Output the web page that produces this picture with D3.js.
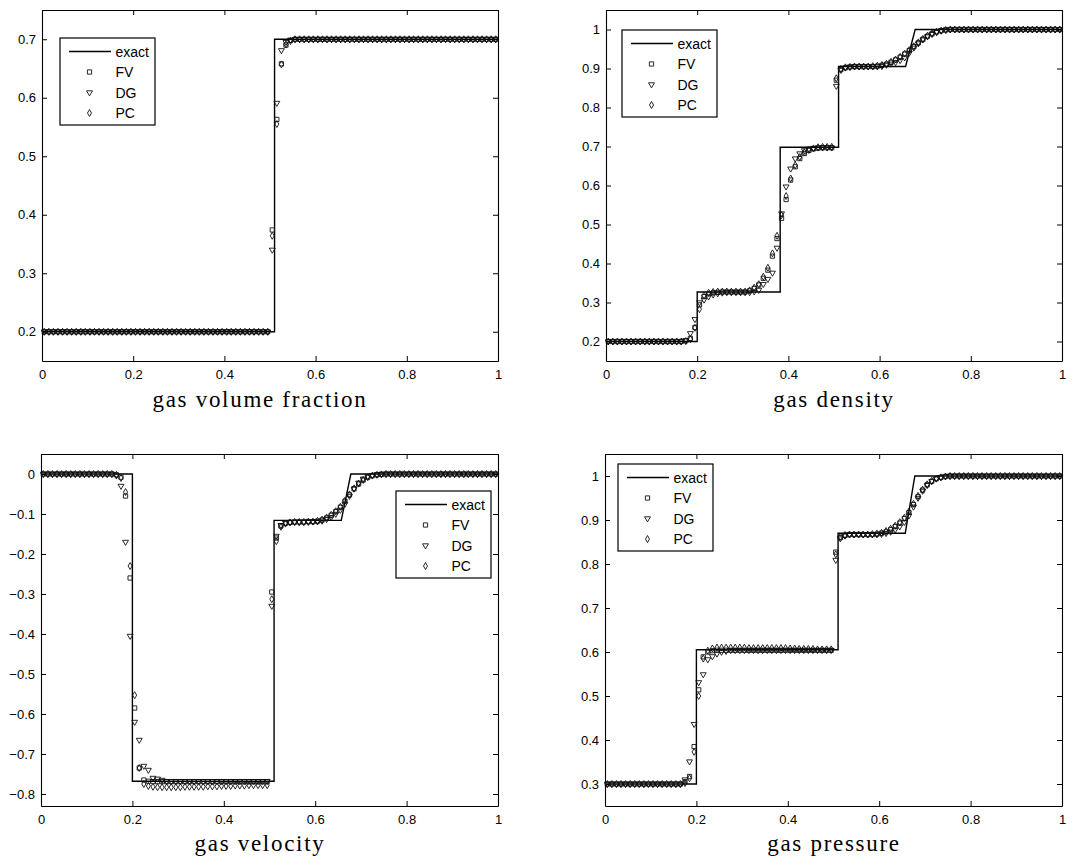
<!DOCTYPE html>
<html>
<head>
<meta charset="utf-8">
<script src="https://cdn.jsdelivr.net/npm/d3@7"></script>
<style>
  body { margin: 0; background: #fff; }
  svg { display: block; }
  .tick text { font-family: "Liberation Sans", Arial, sans-serif; font-size: 13px; fill: #000; }
  .title { font-family: "Liberation Serif", "Times New Roman", serif; font-size: 23px; letter-spacing: 1.7px; fill: #000; }
  .legend text { font-family: "Liberation Sans", Arial, sans-serif; font-size: 14px; fill: #000; }
</style>
</head>
<body>
<svg id="chart" width="1090" height="865"></svg>
<script>
// cell centres (100 cells on [0,1])
const cellX = [
  0.005,0.015,0.025,0.035,0.045,0.055,0.065,0.075,0.085,0.095,
  0.105,0.115,0.125,0.135,0.145,0.155,0.165,0.175,0.185,0.195,
  0.205,0.215,0.225,0.235,0.245,0.255,0.265,0.275,0.285,0.295,
  0.305,0.315,0.325,0.335,0.345,0.355,0.365,0.375,0.385,0.395,
  0.405,0.415,0.425,0.435,0.445,0.455,0.465,0.475,0.485,0.495,
  0.505,0.515,0.525,0.535,0.545,0.555,0.565,0.575,0.585,0.595,
  0.605,0.615,0.625,0.635,0.645,0.655,0.665,0.675,0.685,0.695,
  0.705,0.715,0.725,0.735,0.745,0.755,0.765,0.775,0.785,0.795,
  0.805,0.815,0.825,0.835,0.845,0.855,0.865,0.875,0.885,0.895,
  0.905,0.915,0.925,0.935,0.945,0.955,0.965,0.975,0.985,0.995
];
const xTicks = [0, 0.2, 0.4, 0.6, 0.8, 1];

// gas volume fraction
const alphaExactX = [0, 0.51, 0.51, 1];
const alphaExactY = [0.2, 0.2, 0.7, 0.7];
const alphaTicks = [0.2, 0.3, 0.4, 0.5, 0.6, 0.7];
const alphaFV = [
  0.2,0.2,0.2,0.2,0.2,0.2,0.2,0.2,0.2,0.2,
  0.2,0.2,0.2,0.2,0.2,0.2,0.2,0.2,0.2,0.2,
  0.2,0.2,0.2,0.2,0.2,0.2,0.2,0.2,0.2,0.2,
  0.2,0.2,0.2,0.2,0.2,0.2,0.2,0.2,0.2,0.2,
  0.2,0.2,0.2,0.2,0.2,0.2,0.2,0.2,0.2,0.2,
  0.374,0.563,0.658,0.690,0.698,0.7,0.7,0.7,0.7,0.7,
  0.7,0.7,0.7,0.7,0.7,0.7,0.7,0.7,0.7,0.7,
  0.7,0.7,0.7,0.7,0.7,0.7,0.7,0.7,0.7,0.7,
  0.7,0.7,0.7,0.7,0.7,0.7,0.7,0.7,0.7,0.7,
  0.7,0.7,0.7,0.7,0.7,0.7,0.7,0.7,0.7,0.7
];
const alphaDG = [
  0.2,0.2,0.2,0.2,0.2,0.2,0.2,0.2,0.2,0.2,
  0.2,0.2,0.2,0.2,0.2,0.2,0.2,0.2,0.2,0.2,
  0.2,0.2,0.2,0.2,0.2,0.2,0.2,0.2,0.2,0.2,
  0.2,0.2,0.2,0.2,0.2,0.2,0.2,0.2,0.2,0.2,
  0.2,0.2,0.2,0.2,0.2,0.2,0.2,0.2,0.2,0.2,
  0.340,0.591,0.681,0.695,0.699,0.7,0.7,0.7,0.7,0.7,
  0.7,0.7,0.7,0.7,0.7,0.7,0.7,0.7,0.7,0.7,
  0.7,0.7,0.7,0.7,0.7,0.7,0.7,0.7,0.7,0.7,
  0.7,0.7,0.7,0.7,0.7,0.7,0.7,0.7,0.7,0.7,
  0.7,0.7,0.7,0.7,0.7,0.7,0.7,0.7,0.7,0.7
];
const alphaPC = [
  0.2,0.2,0.2,0.2,0.2,0.2,0.2,0.2,0.2,0.2,
  0.2,0.2,0.2,0.2,0.2,0.2,0.2,0.2,0.2,0.2,
  0.2,0.2,0.2,0.2,0.2,0.2,0.2,0.2,0.2,0.2,
  0.2,0.2,0.2,0.2,0.2,0.2,0.2,0.2,0.2,0.2,
  0.2,0.2,0.2,0.2,0.2,0.2,0.2,0.2,0.2,0.2,
  0.364,0.555,0.657,0.691,0.697,0.7,0.7,0.7,0.7,0.7,
  0.7,0.7,0.7,0.7,0.7,0.7,0.7,0.7,0.7,0.7,
  0.7,0.7,0.7,0.7,0.7,0.7,0.7,0.7,0.7,0.7,
  0.7,0.7,0.7,0.7,0.7,0.7,0.7,0.7,0.7,0.7,
  0.7,0.7,0.7,0.7,0.7,0.7,0.7,0.7,0.7,0.7
];

// gas density
const rhoExactX = [0, 0.2, 0.2, 0.382, 0.382, 0.51, 0.51, 0.657, 0.678, 1];
const rhoExactY = [0.2, 0.2, 0.327, 0.327, 0.698, 0.698, 0.905, 0.905, 1, 1];
const rhoTicks = [0.2, 0.3, 0.4, 0.5, 0.6, 0.7, 0.8, 0.9, 1];
const rhoFV = [
  0.2,0.2,0.2,0.2,0.2,0.2,0.2,0.2,0.2,0.2,
  0.2,0.2,0.2,0.2,0.2,0.2,0.2,0.202,0.208,0.236,
  0.294,0.315,0.322,0.325,0.326,0.327,0.327,0.327,0.327,0.327,
  0.327,0.330,0.336,0.345,0.362,0.383,0.419,0.464,0.516,0.564,
  0.614,0.648,0.669,0.682,0.690,0.694,0.696,0.697,0.697,0.697,
  0.870,0.897,0.902,0.904,0.905,0.905,0.905,0.905,0.905,0.906,
  0.908,0.911,0.916,0.922,0.929,0.937,0.946,0.956,0.966,0.975,
  0.983,0.989,0.994,0.997,0.999,1,1,1,1,1,
  1,1,1,1,1,1,1,1,1,1,
  1,1,1,1,1,1,1,1,1,1
];
const rhoDG = [
  0.2,0.2,0.2,0.2,0.2,0.2,0.2,0.2,0.2,0.2,
  0.2,0.2,0.2,0.2,0.2,0.2,0.2,0.203,0.221,0.257,
  0.300,0.307,0.315,0.320,0.323,0.325,0.326,0.326,0.326,0.326,
  0.326,0.326,0.328,0.332,0.347,0.360,0.376,0.440,0.528,0.597,
  0.643,0.669,0.682,0.690,0.694,0.696,0.697,0.697,0.697,0.697,
  0.855,0.896,0.902,0.904,0.905,0.905,0.905,0.905,0.905,0.905,
  0.906,0.909,0.912,0.916,0.921,0.928,0.940,0.953,0.964,0.974,
  0.982,0.988,0.993,0.997,0.999,1,1,1,1,1,
  1,1,1,1,1,1,1,1,1,1,
  1,1,1,1,1,1,1,1,1,1
];
const rhoPC = [
  0.2,0.2,0.2,0.2,0.2,0.2,0.2,0.2,0.2,0.2,
  0.2,0.2,0.2,0.2,0.2,0.2,0.2,0.201,0.206,0.235,
  0.283,0.318,0.325,0.327,0.328,0.328,0.328,0.328,0.328,0.328,
  0.328,0.331,0.338,0.347,0.366,0.389,0.426,0.471,0.524,0.573,
  0.618,0.652,0.673,0.685,0.691,0.695,0.698,0.699,0.699,0.699,
  0.875,0.899,0.903,0.904,0.905,0.905,0.905,0.905,0.906,0.907,
  0.909,0.912,0.917,0.923,0.930,0.938,0.947,0.957,0.967,0.976,
  0.984,0.990,0.994,0.997,0.999,1,1,1,1,1,
  1,1,1,1,1,1,1,1,1,1,
  1,1,1,1,1,1,1,1,1,1
];

// gas velocity
const velExactX = [0, 0.2, 0.2, 0.51, 0.51, 0.657, 0.678, 1];
const velExactY = [0, 0, -0.768, -0.768, -0.116, -0.116, 0, 0];
const velTicks = [-0.8, -0.7, -0.6, -0.5, -0.4, -0.3, -0.2, -0.1, 0];
const velFV = [
  0,0,0,0,0,0,0,0,0,0,
  0,0,0,0,0,0,-0.002,-0.008,-0.055,-0.260,
  -0.585,-0.735,-0.765,-0.768,-0.769,-0.769,-0.769,-0.769,-0.769,-0.769,
  -0.769,-0.769,-0.769,-0.769,-0.769,-0.769,-0.769,-0.769,-0.769,-0.769,
  -0.769,-0.769,-0.769,-0.769,-0.769,-0.769,-0.769,-0.769,-0.769,-0.769,
  -0.295,-0.160,-0.130,-0.123,-0.121,-0.120,-0.120,-0.120,-0.119,-0.119,
  -0.118,-0.115,-0.110,-0.103,-0.094,-0.083,-0.068,-0.052,-0.037,-0.025,
  -0.015,-0.008,-0.004,-0.002,-0.001,0,0,0,0,0,
  0,0,0,0,0,0,0,0,0,0,
  0,0,0,0,0,0,0,0,0,0
];
const velDG = [
  0,0,0,0,0,0,0,0,0,0,
  0,0,0,0,0,0,-0.004,-0.030,-0.170,-0.405,
  -0.620,-0.665,-0.730,-0.740,-0.760,-0.762,-0.765,-0.768,-0.768,-0.768,
  -0.768,-0.768,-0.768,-0.768,-0.768,-0.768,-0.768,-0.768,-0.768,-0.768,
  -0.768,-0.768,-0.768,-0.768,-0.768,-0.768,-0.768,-0.768,-0.768,-0.768,
  -0.330,-0.155,-0.128,-0.122,-0.121,-0.120,-0.120,-0.120,-0.120,-0.119,
  -0.119,-0.117,-0.113,-0.108,-0.100,-0.090,-0.075,-0.055,-0.037,-0.022,
  -0.012,-0.006,-0.003,-0.001,0,0,0,0,0,0,
  0,0,0,0,0,0,0,0,0,0,
  0,0,0,0,0,0,0,0,0,0
];
const velPC = [
  0,0,0,0,0,0,0,0,0,0,
  0,0,0,0,0,0,-0.002,-0.010,-0.045,-0.230,
  -0.553,-0.735,-0.775,-0.780,-0.782,-0.783,-0.783,-0.783,-0.783,-0.783,
  -0.783,-0.782,-0.782,-0.782,-0.782,-0.782,-0.781,-0.781,-0.781,-0.780,
  -0.780,-0.780,-0.779,-0.779,-0.779,-0.778,-0.778,-0.778,-0.778,-0.778,
  -0.313,-0.168,-0.132,-0.124,-0.121,-0.120,-0.120,-0.120,-0.119,-0.119,
  -0.117,-0.114,-0.109,-0.102,-0.093,-0.082,-0.067,-0.051,-0.036,-0.024,
  -0.015,-0.008,-0.004,-0.002,-0.001,0,0,0,0,0,
  0,0,0,0,0,0,0,0,0,0,
  0,0,0,0,0,0,0,0,0,0
];

// gas pressure
const presExactX = [0, 0.2, 0.2, 0.51, 0.51, 0.657, 0.678, 1];
const presExactY = [0.3, 0.3, 0.605, 0.605, 0.87, 0.87, 1, 1];
const presTicks = [0.3, 0.4, 0.5, 0.6, 0.7, 0.8, 0.9, 1];
const presFV = [
  0.3,0.3,0.3,0.3,0.3,0.3,0.3,0.3,0.3,0.3,
  0.3,0.3,0.3,0.3,0.3,0.3,0.3,0.305,0.317,0.385,
  0.514,0.589,0.600,0.603,0.604,0.604,0.604,0.604,0.604,0.604,
  0.604,0.604,0.604,0.604,0.604,0.604,0.604,0.604,0.604,0.604,
  0.604,0.604,0.604,0.604,0.604,0.604,0.604,0.604,0.604,0.604,
  0.827,0.860,0.865,0.867,0.867,0.867,0.867,0.867,0.867,0.868,
  0.870,0.873,0.878,0.885,0.893,0.903,0.917,0.935,0.953,0.968,
  0.980,0.988,0.994,0.997,0.999,1,1,1,1,1,
  1,1,1,1,1,1,1,1,1,1,
  1,1,1,1,1,1,1,1,1,1
];
const presDG = [
  0.3,0.3,0.3,0.3,0.3,0.3,0.3,0.3,0.3,0.3,
  0.3,0.3,0.3,0.3,0.3,0.3,0.3,0.310,0.351,0.436,
  0.531,0.549,0.583,0.590,0.596,0.600,0.602,0.604,0.604,0.604,
  0.604,0.604,0.604,0.604,0.604,0.604,0.604,0.604,0.604,0.604,
  0.604,0.604,0.604,0.604,0.604,0.604,0.604,0.604,0.604,0.604,
  0.809,0.858,0.864,0.867,0.867,0.867,0.867,0.867,0.867,0.867,
  0.868,0.870,0.873,0.878,0.885,0.895,0.910,0.930,0.950,0.966,
  0.979,0.988,0.994,0.997,0.999,1,1,1,1,1,
  1,1,1,1,1,1,1,1,1,1,
  1,1,1,1,1,1,1,1,1,1
];
const presPC = [
  0.3,0.3,0.3,0.3,0.3,0.3,0.3,0.3,0.3,0.3,
  0.3,0.3,0.3,0.3,0.3,0.3,0.3,0.302,0.313,0.373,
  0.500,0.585,0.603,0.608,0.610,0.610,0.610,0.610,0.610,0.610,
  0.610,0.609,0.609,0.609,0.609,0.609,0.609,0.609,0.609,0.609,
  0.608,0.608,0.607,0.607,0.607,0.607,0.606,0.606,0.606,0.606,
  0.822,0.862,0.866,0.867,0.867,0.867,0.867,0.867,0.868,0.869,
  0.871,0.875,0.880,0.887,0.895,0.905,0.919,0.937,0.955,0.969,
  0.981,0.989,0.994,0.997,0.999,1,1,1,1,1,
  1,1,1,1,1,1,1,1,1,1,
  1,1,1,1,1,1,1,1,1,1
];

const legendNames = ["exact", "FV", "DG", "PC"];

// layout of the four panels
var panels = [
  { title: "gas volume fraction", exX: alphaExactX, exY: alphaExactY, fv: alphaFV, dg: alphaDG, pc: alphaPC,
    yDomain: [0.15, 0.75], yTicks: alphaTicks, left: 42, top: 10, width: 456, height: 351,
    legend: { x: 18, y: 28 }, titleX: 260, titleY: 407 },
  { title: "gas density", exX: rhoExactX, exY: rhoExactY, fv: rhoFV, dg: rhoDG, pc: rhoPC,
    yDomain: [0.15, 1.05], yTicks: rhoTicks, left: 606, top: 10, width: 456, height: 351,
    legend: { x: 16, y: 20 }, titleX: 834, titleY: 407 },
  { title: "gas velocity", exX: velExactX, exY: velExactY, fv: velFV, dg: velDG, pc: velPC,
    yDomain: [-0.83, 0.05], yTicks: velTicks, left: 41, top: 454, width: 457, height: 352,
    legend: { x: 355, y: 37 }, titleX: 260, titleY: 851 },
  { title: "gas pressure", exX: presExactX, exY: presExactY, fv: presFV, dg: presDG, pc: presPC,
    yDomain: [0.25, 1.05], yTicks: presTicks, left: 605, top: 454, width: 457, height: 352,
    legend: { x: 13, y: 10 }, titleX: 834, titleY: 851 }
];

var svg = d3.select("#chart");
var fmt = d3.format("~g");

var symSquare = d3.symbol(d3.symbolSquare, 18)();
var symTri = d3.symbol(d3.symbolTriangle, 15)();
var symDia = d3.symbol(d3.symbolDiamond, 14)();
var markerStyle = { stroke: "#111", width: 0.9 };

function drawMarkers(g, shape, rotate, xs, ys, x, y) {
  g.append("g").selectAll("path")
    .data(ys)
    .join("path")
    .attr("d", shape)
    .attr("transform", function (d, i) {
      return "translate(" + x(xs[i]) + "," + y(d) + ")" + (rotate ? " rotate(180)" : "");
    })
    .attr("fill", "none")
    .attr("stroke", markerStyle.stroke)
    .attr("stroke-width", markerStyle.width);
}

panels.forEach(function (p) {
  var g = svg.append("g").attr("transform", "translate(" + p.left + "," + p.top + ")");
  var x = d3.scaleLinear().domain([0, 1]).range([0, p.width]);
  var y = d3.scaleLinear().domain(p.yDomain).range([p.height, 0]);

  // axes with inward ticks on all four sides
  g.append("g").attr("transform", "translate(0," + p.height + ")")
    .call(d3.axisBottom(x).tickValues(xTicks).tickFormat(fmt).tickSizeInner(-5).tickSizeOuter(0).tickPadding(9));
  g.append("g")
    .call(d3.axisTop(x).tickValues(xTicks).tickFormat("").tickSizeInner(-5).tickSizeOuter(0));
  g.append("g")
    .call(d3.axisLeft(y).tickValues(p.yTicks).tickFormat(fmt).tickSizeInner(-5).tickSizeOuter(0).tickPadding(6));
  g.append("g").attr("transform", "translate(" + p.width + ",0)")
    .call(d3.axisRight(y).tickValues(p.yTicks).tickFormat("").tickSizeInner(-5).tickSizeOuter(0));
  g.selectAll(".domain").attr("stroke", "#000").attr("stroke-width", 1.1);
  g.selectAll(".tick line").attr("stroke", "#000");

  // exact solution
  g.append("path")
    .datum(p.exX)
    .attr("fill", "none")
    .attr("stroke", "#000")
    .attr("stroke-width", 1.4)
    .attr("d", d3.line()
      .x(function (d) { return x(d); })
      .y(function (d, i) { return y(p.exY[i]); }));

  // numerical solutions
  drawMarkers(g, symSquare, false, cellX, p.fv, x, y);
  drawMarkers(g, symTri, true, cellX, p.dg, x, y);
  drawMarkers(g, symDia, false, cellX, p.pc, x, y);

  // legend
  var lg = g.append("g").attr("class", "legend")
    .attr("transform", "translate(" + p.legend.x + "," + p.legend.y + ")");
  lg.append("rect").attr("width", 95).attr("height", 87)
    .attr("fill", "#fff").attr("stroke", "#000").attr("stroke-width", 1.2);
  legendNames.forEach(function (name, k) {
    var cy = 13.5 + k * 20.5;
    if (k === 0) {
      lg.append("line").attr("x1", 9).attr("x2", 51).attr("y1", cy).attr("y2", cy)
        .attr("stroke", "#000").attr("stroke-width", 1.4);
    } else {
      var shape = [symSquare, symTri, symDia][k - 1];
      lg.append("path").attr("d", shape)
        .attr("transform", "translate(29.5," + cy + ")" + (k === 2 ? " rotate(180)" : ""))
        .attr("fill", "none").attr("stroke", markerStyle.stroke).attr("stroke-width", markerStyle.width);
    }
    lg.append("text").attr("x", 55.5).attr("y", cy).attr("dy", "0.36em").text(name);
  });

  // caption under the panel
  svg.append("text").attr("class", "title")
    .attr("x", p.titleX).attr("y", p.titleY)
    .attr("text-anchor", "middle")
    .text(p.title);
});
</script>
</body>
</html>
